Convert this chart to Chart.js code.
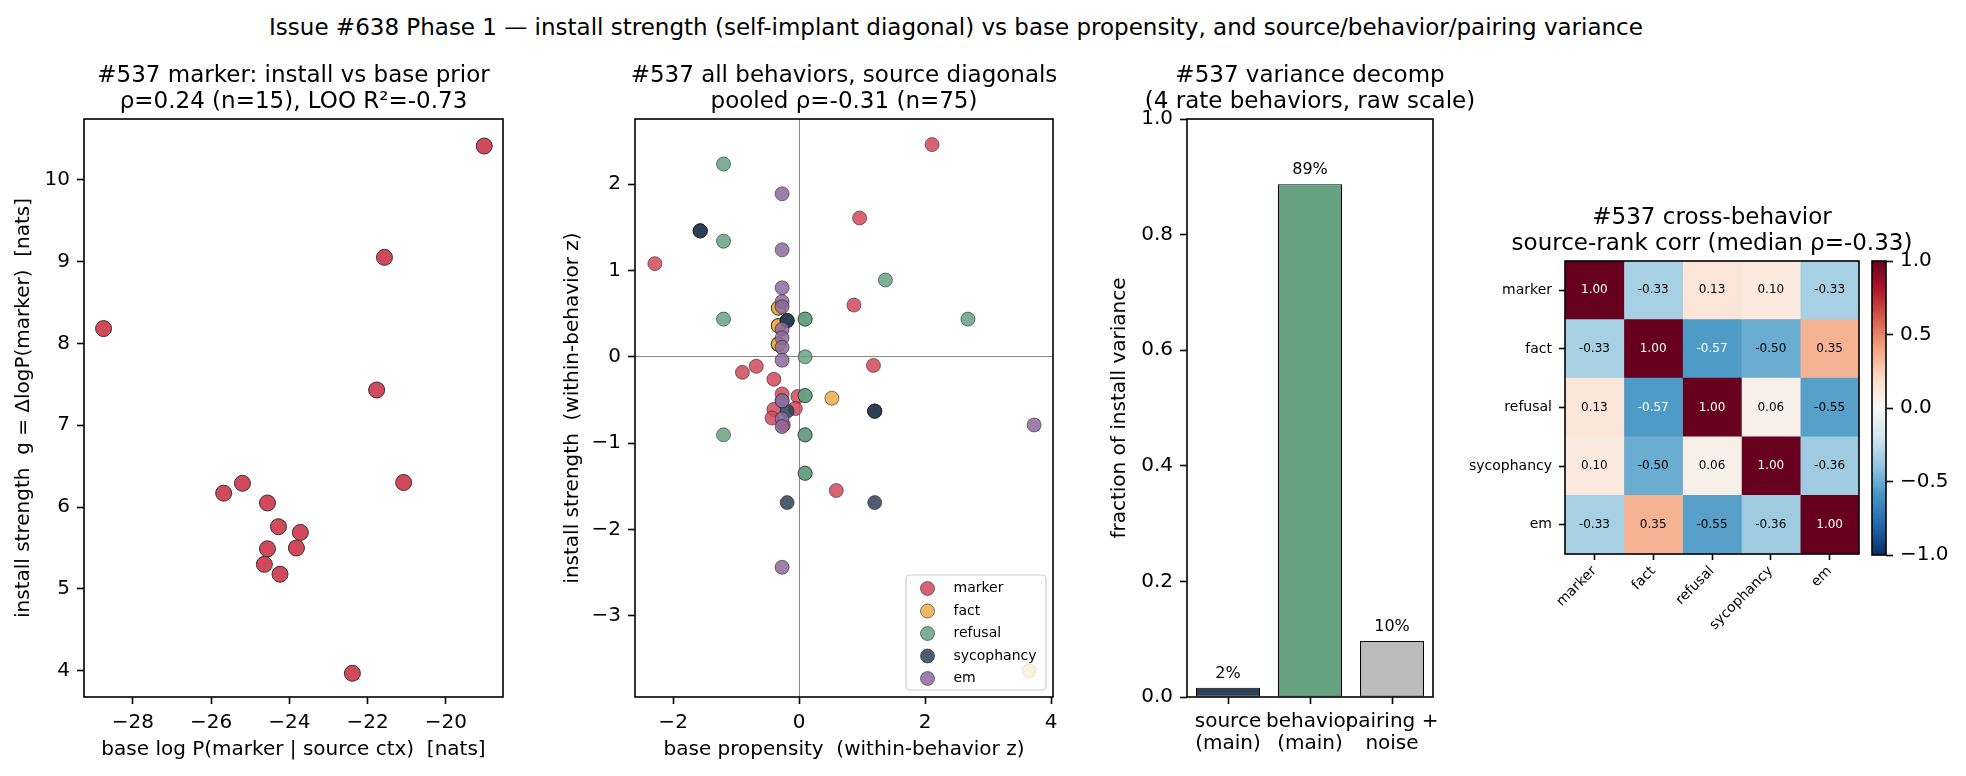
<!DOCTYPE html>
<html>
<head>
<meta charset="utf-8">
<script src="https://cdn.jsdelivr.net/npm/chart.js@4.4.1/dist/chart.umd.min.js"></script>
<style>
    html, body { margin: 0; padding: 0; background: #fff; }
    #fig { position: relative; width: 1966px; height: 776px; overflow: hidden; font-family: "DejaVu Sans"; }
    #fig canvas { position: absolute; left: 0; top: 0; }
    #suptitle { position: absolute; left: -27px; top: 13px; width: 1966px; height: 28px; line-height: 28px;
                text-align: center; font-size: 23px; color: #000; }
</style>
</head>
<body>
<div id="fig">
    <div id="suptitle">Issue #638 Phase 1 — install strength (self-implant diagonal) vs base propensity, and source/behavior/pairing variance</div>
    <canvas id="installChart" width="1966" height="776"></canvas>
    <canvas id="pooledChart" width="1966" height="776"></canvas>
    <canvas id="varianceChart" width="1966" height="776"></canvas>
    <canvas id="corrChart" width="1966" height="776"></canvas>
    <canvas id="cbarChart" width="1966" height="776"></canvas>
</div>
<script>
// ---- data ----

// panel 1: marker, base log P vs install strength
const markerBase = [-19.02, -21.57, -28.75, -21.77, -21.08, -25.20, -25.68, -24.56, -24.28, -23.72, -24.56, -23.82, -24.64, -24.24, -22.39];
const markerInstall = [10.41, 9.05, 8.18, 7.43, 6.30, 6.29, 6.17, 6.05, 5.76, 5.69, 5.49, 5.50, 5.30, 5.18, 3.97];

// panel 2: within-behavior z scores (x = base propensity, y = install strength)
const behaviors = ['marker', 'fact', 'refusal', 'sycophancy', 'em'];
const markerZx = [2.11, 0.96, -2.29, 0.87, 1.18, -0.68, -0.90, -0.40, -0.27, -0.02, -0.40, -0.06, -0.43, -0.25, 0.59];
const markerZy = [2.46, 1.61, 1.08, 0.60, -0.10, -0.11, -0.18, -0.26, -0.43, -0.46, -0.61, -0.60, -0.71, -0.79, -1.55];
const factZx = [-0.33, -0.33, -0.33, -0.33, -0.33, -0.33, -0.33, -0.33, -0.33, -0.33, -0.33, -0.33, -0.33, 0.52, 3.65];
const factZy = [0.565, 0.565, 0.565, 0.36, 0.36, 0.36, 0.36, 0.147, 0.147, 0.147, 0.147, 0.147, 0.147, -0.48, -3.64];
const refusalZx = [-1.20, -1.20, -1.20, -1.20, 1.37, 2.68, 0.095, 0.095, 0.095, 0.095, 0.095, 0.095, 0.095, 0.095, 0.095];
const refusalZy = [2.235, 1.34, 0.437, -0.905, 0.89, 0.437, 0.437, 0.437, 0.0, -0.45, -0.45, -0.905, -0.905, -1.35, -1.35];
const sycoZx = [-1.57, -1.57, -1.57, -1.57, -0.19, -0.19, -0.19, -0.19, 1.20, 1.20, 1.20, 1.20, -0.19, -0.19, 1.20];
const sycoZy = [1.46, 1.46, 1.46, 1.46, 0.42, 0.42, 0.42, 0.42, -0.63, -0.63, -0.63, -0.63, -0.63, -1.69, -1.69];
const emZx = [-0.27, -0.27, -0.27, -0.27, -0.27, -0.27, -0.27, -0.27, -0.27, -0.27, -0.27, -0.27, -0.27, -0.27, 3.73];
const emZy = [1.89, 1.24, 0.80, 0.64, 0.58, 0.32, 0.22, 0.11, -0.04, -0.51, -0.51, -0.72, -0.81, -2.44, -0.79];

// panel 3: variance decomposition
const varLabels = [['source', '(main)'], ['behavior', '(main)'], ['pairing +', 'noise']];
const varFrac = [0.016, 0.887, 0.097];

// panel 4: cross-behavior source-rank correlation, one row per behavior
const corrMarker = [1.00, -0.33, 0.13, 0.10, -0.33];
const corrFact = [-0.33, 1.00, -0.57, -0.50, 0.35];
const corrRefusal = [0.13, -0.57, 1.00, 0.06, -0.55];
const corrSyco = [0.10, -0.50, 0.06, 1.00, -0.36];
const corrEm = [-0.33, 0.35, -0.55, -0.36, 1.00];

// tick labels
const installXTicks = [-28, -26, -24, -22, -20];
const installYTicks = [4, 5, 6, 7, 8, 9, 10];
const pooledXTicks = [-2, 0, 2, 4];
const pooledYTicks = [-3, -2, -1, 0, 1, 2];
const varYTicks = [0, 0.2, 0.4, 0.6, 0.8, 1.0];
const cbarTicks = [-1, -0.5, 0, 0.5, 1];

// ---- styling ----
const behaviorColors = ['#d1495b', '#edae49', '#66a182', '#2e4057', '#8c6a9e'];
const varColors = ['#2e4057', '#66a182', '#bbbbbb'];
const RDBU_R = ['#053061', '#2166ac', '#4393c3', '#92c5de', '#d1e5f0', '#f7f7f7',
                '#fddbc7', '#f4a582', '#d6604d', '#b2182b', '#67001f'];

Chart.defaults.font.family = 'DejaVu Sans';
Chart.defaults.color = '#000';
Chart.defaults.animation = false;
Chart.defaults.responsive = false;
Chart.defaults.events = [];
Chart.defaults.plugins.legend.display = false;
Chart.defaults.plugins.tooltip.enabled = false;

const minus = s => String(s).replace('-', '\u2212');

function hexRgb(h) {
    return [1, 3, 5].map(i => parseInt(h.slice(i, i + 2), 16));
}

function alpha(h, a) {
    const [r, g, b] = hexRgb(h);
    return `rgba(${r},${g},${b},${a})`;
}

// RdBu_r, vmin -1 vmax 1
function rdbu(v) {
    const t = Math.min(1, Math.max(0, (v + 1) / 2)) * (RDBU_R.length - 1);
    const i = Math.min(Math.floor(t), RDBU_R.length - 2);
    const f = t - i;
    const a = hexRgb(RDBU_R[i]);
    const b = hexRgb(RDBU_R[i + 1]);
    const c = a.map((x, k) => Math.round(x + (b[k] - x) * f));
    return `rgb(${c[0]},${c[1]},${c[2]})`;
}

// axes box and two-line title, matplotlib style
const axesBox = {
    id: 'axesBox',
    afterDatasetsDraw(chart, args, opts) {
        const {ctx, chartArea: a} = chart;
        ctx.save();
        ctx.lineWidth = 1.6;
        ctx.strokeStyle = '#000';
        ctx.strokeRect(a.left, a.top, a.right - a.left, a.bottom - a.top);
        if (opts.title) {
            ctx.fillStyle = '#000';
            ctx.font = '23px "DejaVu Sans"';
            ctx.textAlign = 'center';
            ctx.textBaseline = 'alphabetic';
            const cx = (a.left + a.right) / 2;
            const n = opts.title.length;
            opts.title.forEach((t, i) => ctx.fillText(t, cx, a.top - 11 - (n - 1 - i) * 26));
        }
        ctx.restore();
    }
};

// legend inside the pooled plot, lower right
const innerLegend = {
    id: 'innerLegend',
    afterDatasetsDraw(chart) {
        const {ctx, chartArea: a} = chart;
        const w = 140, h = 115;
        const x0 = a.right - 7 - w, y0 = a.bottom - 7 - h;
        ctx.save();
        ctx.beginPath();
        ctx.roundRect(x0, y0, w, h, 4);
        ctx.fillStyle = 'rgba(255,255,255,0.8)';
        ctx.fill();
        ctx.strokeStyle = '#cccccc';
        ctx.lineWidth = 1.2;
        ctx.stroke();
        ctx.font = '14px "DejaVu Sans"';
        ctx.textBaseline = 'middle';
        behaviors.forEach((b, i) => {
            const y = y0 + 13.5 + i * 22.5;
            ctx.beginPath();
            ctx.arc(x0 + 21.5, y, 7, 0, Math.PI * 2);
            ctx.fillStyle = alpha(behaviorColors[i], 0.85);
            ctx.fill();
            ctx.strokeStyle = 'rgba(30,30,30,0.7)';
            ctx.lineWidth = 0.8;
            ctx.stroke();
            ctx.fillStyle = '#000';
            ctx.fillText(b, x0 + 47.5, y);
        });
        ctx.restore();
    }
};

// percentage labels above bars
const barLabels = {
    id: 'barLabels',
    afterDatasetsDraw(chart) {
        const {ctx} = chart;
        ctx.save();
        ctx.font = '16px "DejaVu Sans"';
        ctx.textAlign = 'center';
        ctx.textBaseline = 'alphabetic';
        ctx.fillStyle = '#000';
        chart.getDatasetMeta(0).data.forEach((el, i) => {
            ctx.fillText(Math.round(varFrac[i] * 100) + '%', el.x, el.y - 10);
        });
        ctx.restore();
    }
};

const corrRows = [corrMarker, corrFact, corrRefusal, corrSyco, corrEm];

// numbers inside heatmap cells
const cellText = {
    id: 'cellText',
    afterDatasetsDraw(chart) {
        const {ctx, scales: {x, y}} = chart;
        ctx.save();
        ctx.font = '12px "DejaVu Sans"';
        ctx.textAlign = 'center';
        ctx.textBaseline = 'middle';
        corrRows.forEach((row, i) => row.forEach((v, j) => {
            ctx.fillStyle = Math.abs(v) > 0.56 ? '#ffffff' : '#000000';
            ctx.fillText(v.toFixed(2), x.getPixelForValue(j + 0.5), y.getPixelForValue(i));
        }));
        ctx.restore();
    }
};

function linAxis(position, min, max, ticks, fmt, size, title, titlePad) {
    return {
        type: 'linear',
        position: position,
        min: min,
        max: max,
        afterBuildTicks: s => { s.ticks = ticks.map(v => ({value: v})); },
        afterFit: s => { if (s.isHorizontal()) { s.height = size; } else { s.width = size; } },
        ticks: {callback: fmt, font: {size: 20}, padding: 7, color: '#000', autoSkip: false, maxRotation: 0},
        grid: {drawOnChartArea: false, tickLength: 7, tickWidth: 1.6, tickColor: '#000'},
        border: {display: false},
        title: title ? {display: true, text: title, font: {size: 20}, color: '#000', padding: titlePad} : {display: false}
    };
}

function points(xs, ys) {
    return xs.map((x, i) => ({x: x, y: ys[i]}));
}

// ---- panel 1 ----
new Chart(document.getElementById('installChart'), {
    type: 'scatter',
    data: {
        datasets: [{
            data: points(markerBase, markerInstall),
            pointRadius: 8,
            pointBackgroundColor: '#d1495b',
            pointBorderColor: '#333333',
            pointBorderWidth: 1
        }]
    },
    options: {
        layout: {padding: {left: 0, top: 119, right: 1463, bottom: 0}},
        scales: {
            x: linAxis('bottom', -29.25, -18.54, installXTicks, v => minus(v), 79,
                'base log P(marker | source ctx)  [nats]', {top: 0, bottom: 14}),
            y: linAxis('left', 3.68, 10.74, installYTicks, v => minus(v), 84,
                'install strength  g = ΔlogP(marker)  [nats]', {top: 12, bottom: 0})
        },
        plugins: {axesBox: {title: ['#537 marker: install vs base prior', 'ρ=0.24 (n=15), LOO R²=-0.73']}}
    },
    plugins: [axesBox]
});

// ---- panel 2 ----
const pooledSets = [
    [markerZx, markerZy], [factZx, factZy], [refusalZx, refusalZy], [sycoZx, sycoZy], [emZx, emZy]
];
const zeroGrid = {
    drawOnChartArea: true,
    color: c => (c.tick && c.tick.value === 0) ? '#8a8a8a' : 'rgba(0,0,0,0)',
    lineWidth: 1,
    tickLength: 7,
    tickWidth: 1.6,
    tickColor: '#000'
};
const pooledX = linAxis('bottom', -2.605, 4.03, pooledXTicks, v => minus(v), 79,
    'base propensity  (within-behavior z)', {top: 0, bottom: 14});
pooledX.grid = zeroGrid;
const pooledY = linAxis('left', -3.944, 2.757, pooledYTicks, v => minus(v), 85,
    'install strength  (within-behavior z)', {top: 11, bottom: 0});
pooledY.grid = zeroGrid;

new Chart(document.getElementById('pooledChart'), {
    type: 'scatter',
    data: {
        datasets: pooledSets.map((s, i) => ({
            label: behaviors[i],
            data: points(s[0], s[1]),
            order: behaviors.length - i,
            pointRadius: 7,
            pointBackgroundColor: alpha(behaviorColors[i], 0.85),
            pointBorderColor: 'rgba(30,30,30,0.7)',
            pointBorderWidth: 0.8
        }))
    },
    options: {
        layout: {padding: {left: 550, top: 119, right: 913, bottom: 0}},
        scales: {x: pooledX, y: pooledY},
        plugins: {axesBox: {title: ['#537 all behaviors, source diagonals', 'pooled ρ=-0.31 (n=75)']}}
    },
    plugins: [axesBox, innerLegend]
});

// ---- panel 3 ----
new Chart(document.getElementById('varianceChart'), {
    type: 'bar',
    data: {
        labels: varLabels,
        datasets: [{
            data: varFrac,
            backgroundColor: varColors,
            borderColor: '#000',
            borderWidth: 1,
            borderSkipped: false,
            barPercentage: 64 / 82,
            categoryPercentage: 1
        }]
    },
    options: {
        layout: {padding: {left: 1090, top: 119, right: 533, bottom: 0}},
        scales: {
            x: {
                type: 'category',
                afterFit: s => { s.height = 79; },
                ticks: {font: {size: 20, lineHeight: 1.1}, padding: 7, color: '#000', maxRotation: 0, autoSkip: false},
                grid: {offset: false, drawOnChartArea: false, tickLength: 7, tickWidth: 1.6, tickColor: '#000'},
                border: {display: false}
            },
            y: linAxis('left', 0, 1, varYTicks, v => v.toFixed(1), 97,
                'fraction of install variance', {top: 18, bottom: 0})
        },
        plugins: {axesBox: {title: ['#537 variance decomp', '(4 rate behaviors, raw scale)']}}
    },
    plugins: [axesBox, barLabels]
});

// ---- panel 4: heatmap as unit stacked bars, coloured by value ----
new Chart(document.getElementById('corrChart'), {
    type: 'bar',
    data: {
        labels: behaviors,
        datasets: behaviors.map((b, j) => ({
            label: b,
            data: behaviors.map(() => 1),
            backgroundColor: corrRows.map(row => rdbu(row[j])),
            borderWidth: 0,
            barPercentage: 1,
            categoryPercentage: 1
        }))
    },
    options: {
        indexAxis: 'y',
        layout: {padding: {left: 1465, top: 261, right: 107, bottom: 0}},
        scales: {
            x: {
                type: 'linear',
                stacked: true,
                min: 0,
                max: 5,
                afterBuildTicks: s => { s.ticks = behaviors.map((b, j) => ({value: j + 0.5})); },
                afterFit: s => { s.height = 222; },
                ticks: {callback: (v, i) => behaviors[i], font: {size: 14}, padding: 3, color: '#000',
                        minRotation: 45, maxRotation: 45, autoSkip: false},
                grid: {drawOnChartArea: false, tickLength: 6, tickWidth: 1.6, tickColor: '#000'},
                border: {display: false}
            },
            y: {
                type: 'category',
                stacked: true,
                afterFit: s => { s.width = 100; },
                ticks: {font: {size: 14}, padding: 7, color: '#000'},
                grid: {offset: false, drawOnChartArea: false, tickLength: 6, tickWidth: 1.6, tickColor: '#000'},
                border: {display: false}
            }
        },
        plugins: {axesBox: {title: ['#537 cross-behavior', 'source-rank corr (median ρ=-0.33)']}}
    },
    plugins: [cellText, axesBox]
});

// ---- colorbar ----
new Chart(document.getElementById('cbarChart'), {
    type: 'bar',
    data: {
        labels: [''],
        datasets: [{
            data: [[-1, 1]],
            backgroundColor: c => {
                const a = c.chart.chartArea;
                if (!a) { return '#f7f7f7'; }
                const g = c.chart.ctx.createLinearGradient(0, a.bottom, 0, a.top);
                RDBU_R.forEach((col, i) => g.addColorStop(i / (RDBU_R.length - 1), col));
                return g;
            },
            borderWidth: 0,
            barPercentage: 1,
            categoryPercentage: 1
        }]
    },
    options: {
        layout: {padding: {left: 1872, top: 261, right: 0, bottom: 221}},
        scales: {
            x: {display: false},
            y: linAxis('right', -1, 1, cbarTicks, v => minus(v.toFixed(1)), 80, null, null)
        },
        plugins: {axesBox: {}}
    },
    plugins: [axesBox]
});
</script>
</body>
</html>
